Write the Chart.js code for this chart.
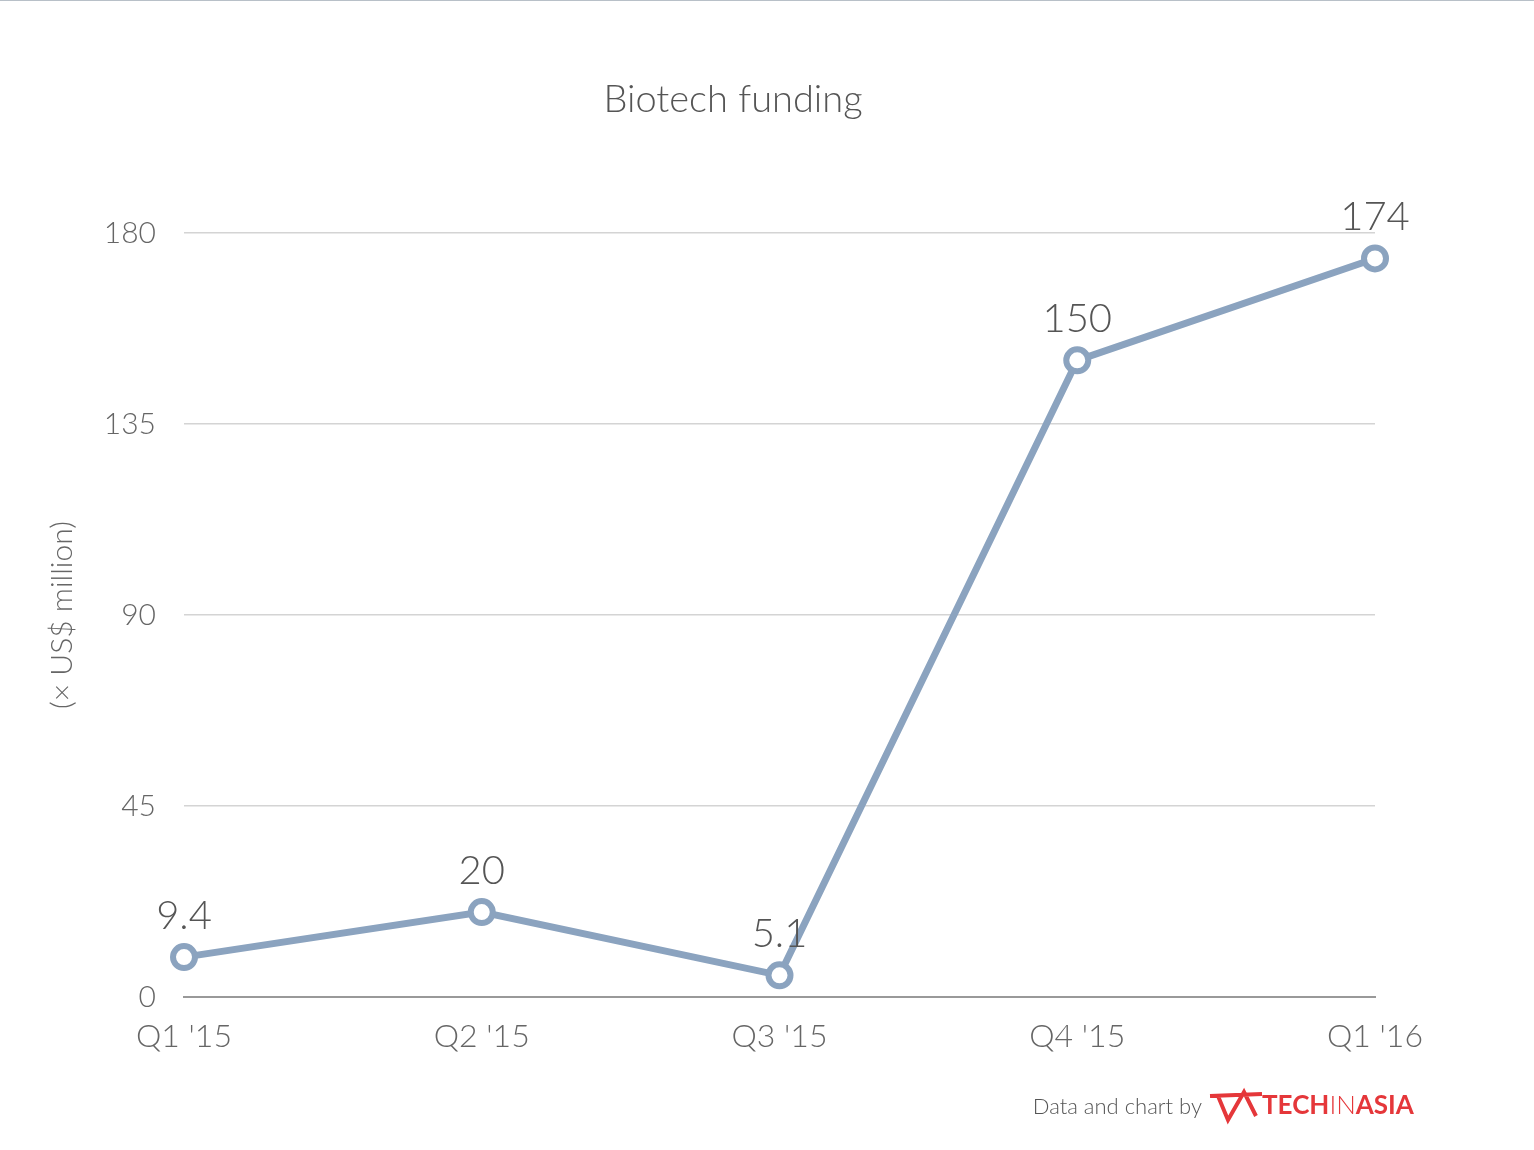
<!DOCTYPE html>
<html>
<head>
<meta charset="utf-8">
<script src="https://cdn.jsdelivr.net/npm/chart.js@4/dist/chart.umd.min.js"></script>
<style>
body{margin:0;background:#fff;}
#wrap{width:1534px;height:1150px;position:relative;}
#topline{position:absolute;left:0;top:0;width:1534px;height:1px;background:#b8c0c8;}
</style>
</head>
<body>
<div id="wrap"><canvas id="chart" width="1534" height="1150"></canvas><div id="topline"></div></div>
<script>
var quarters = ["Q1 '15", "Q2 '15", "Q3 '15", "Q4 '15", "Q1 '16"];
var funding = [9.4, 20, 5.1, 150, 174];
var valueLabels = ["9.4", "20", "5.1", "150", "174"];
var lineColor = '#8ba3bf';

// titles, value labels and footer
var extras = {
	id: 'extras',
	afterDatasetsDraw: function(chart) {
		var ctx = chart.ctx;
		var meta = chart.getDatasetMeta(0);
		ctx.save();
		ctx.fillStyle = '#555';
		ctx.textAlign = 'center';
		ctx.textBaseline = 'alphabetic';
		ctx.font = '300 40px Lato';
		meta.data.forEach(function(pt, i) {
			ctx.fillText(valueLabels[i], pt.x, pt.y - 28);
		});
		ctx.font = '300 38px Lato';
		ctx.fillText('Biotech funding', 733, 112);
		ctx.save();
		ctx.translate(62, 615);
		ctx.rotate(-Math.PI / 2);
		ctx.font = '300 30px Lato';
		ctx.fillStyle = '#666';
		ctx.textBaseline = 'middle';
		ctx.fillText('(\u00d7 US$ million)', 0, 0);
		ctx.restore();
		ctx.textAlign = 'right';
		ctx.font = '300 22px Lato';
		ctx.fillStyle = '#555';
		ctx.fillText('Data and chart by', 1202, 1114);
		ctx.textAlign = 'left';
		ctx.font = 'bold 26px Lato';
		ctx.fillStyle = '#e5373a';
		ctx.fillText('TECH', 1262, 1114);
		var w = ctx.measureText('TECH').width;
		ctx.font = '300 26px Lato';
		ctx.fillText('IN', 1262 + w, 1114);
		var w2 = ctx.measureText('IN').width;
		ctx.font = 'bold 26px Lato';
		ctx.fillText('ASIA', 1262 + w + w2, 1114);
		// logo mark
		ctx.strokeStyle = '#e5373a';
		ctx.lineWidth = 4;
		ctx.beginPath();
		ctx.moveTo(1210, 1096); ctx.lineTo(1262, 1094);
		ctx.moveTo(1218, 1096); ctx.lineTo(1228, 1120); ctx.lineTo(1244, 1092); ctx.lineTo(1256, 1116);
		ctx.stroke();
		ctx.restore();
	}
};

new Chart(document.getElementById('chart'), {
	type: 'line',
	data: {
		labels: quarters,
		datasets: [{
			data: funding,
			borderColor: lineColor,
			borderWidth: 7,
			pointRadius: 11,
			pointHoverRadius: 11,
			pointBackgroundColor: '#fff',
			pointBorderColor: lineColor,
			pointBorderWidth: 6,
			tension: 0
		}]
	},
	options: {
		responsive: false,
		animation: false,
		devicePixelRatio: 1,
		layout: { padding: { top: 233, right: 159, bottom: 90, left: 0 } },
		plugins: { legend: { display: false }, tooltip: { enabled: false } },
		scales: {
			x: {
				offset: false,
				grid: { display: false },
				border: { color: '#999', width: 2 },
				ticks: { color: '#666', font: { family: 'Lato', weight: 300, size: 32 }, padding: 12, maxRotation: 0 },
				afterFit: function(s) { s.height = 63; }
			},
			y: {
				min: 0, max: 180,
				border: { display: false },
				grid: { color: function(c) { return c.tick.value === 0 ? '#999' : '#d4d4d4'; }, lineWidth: 1.5, drawTicks: false },
				ticks: { stepSize: 45, color: '#666', font: { family: 'Lato', weight: 300, size: 30 }, padding: 28 },
				afterFit: function(s) { s.width = 184; }
			}
		}
	},
	plugins: [extras]
});
</script>
</body>
</html>
